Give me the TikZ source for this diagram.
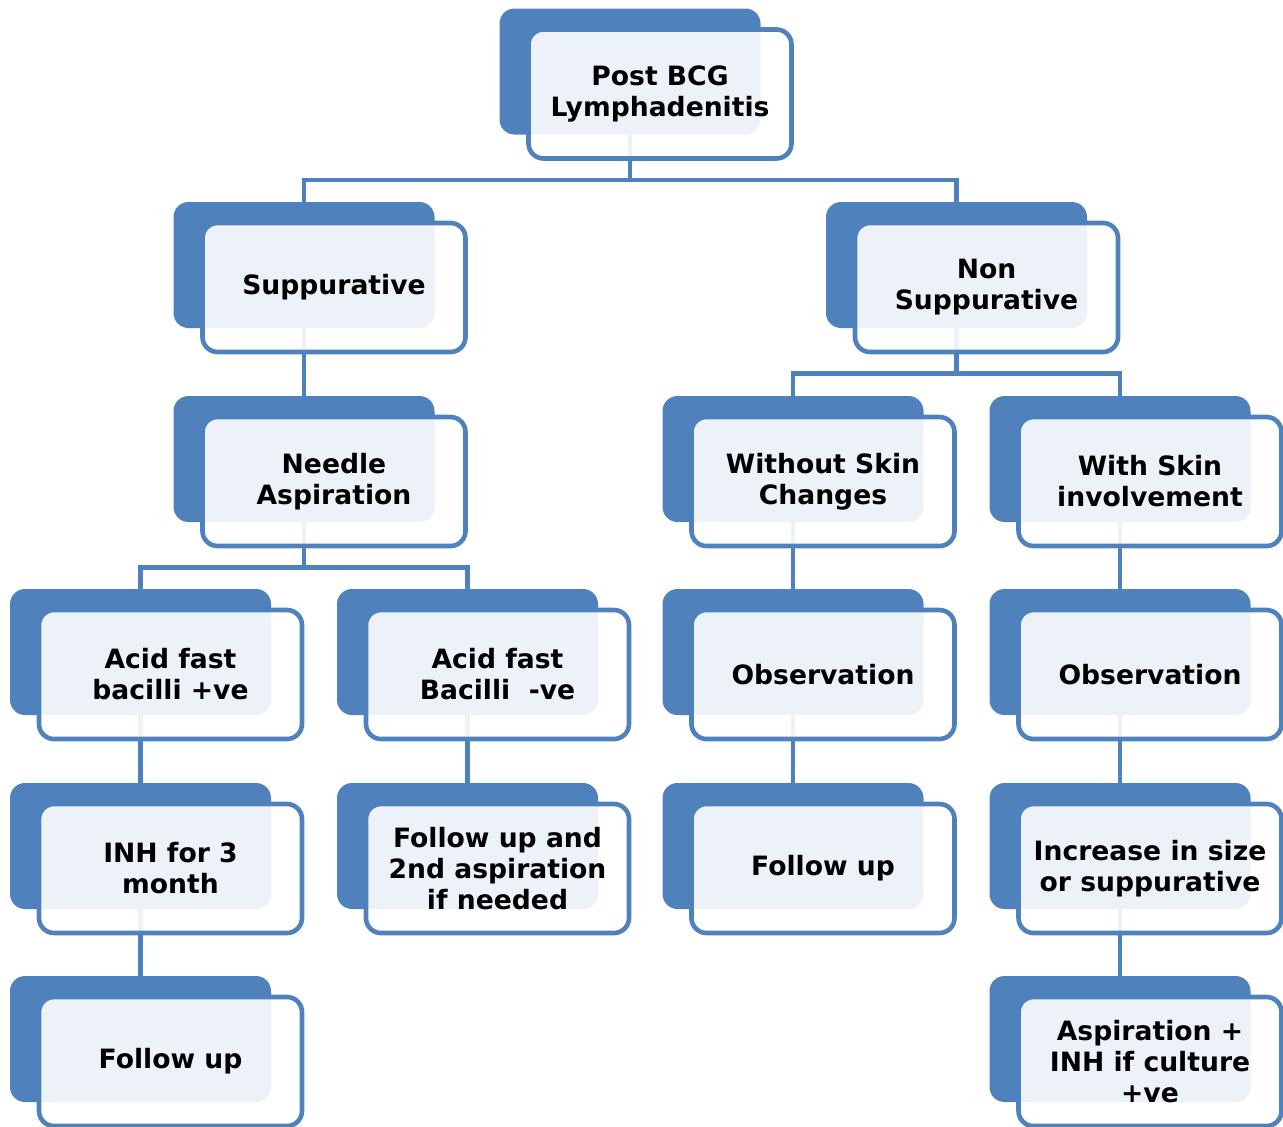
\documentclass[tikz,border=0pt]{standalone}
\usepackage{fontspec}
\setmainfont{DejaVu Sans}
\usetikzlibrary{backgrounds}
\definecolor{boxblue}{HTML}{4F81BD}
\tikzset{backbox/.style={fill=boxblue,rounded corners=7.5pt,minimum width=130.5pt,minimum height=63pt,inner sep=0pt},
frontbox/.style={draw=boxblue,line width=2.3pt,fill=white,fill opacity=.9,text opacity=1,rounded corners=7.5pt,minimum width=131.5pt,minimum height=64.5pt,inner sep=0pt,align=center,font=\bfseries\fontsize{13.3pt}{15.5pt}\selectfont},
link/.style={draw=boxblue,line width=2.3pt}}
\begin{document}
\begin{tikzpicture}[x=.5pt,y=-.5pt]
\useasboundingbox (0,0) rectangle (1283,1126);
% back boxes
\node[backbox] (root) at (630,71.5) {};
\node[backbox] (supp) at (304,265) {};\node[backbox] (nonsupp) at (956.5,265) {};
\node[backbox] (needle) at (304,459) {};\node[backbox] (noskin) at (793,459) {};\node[backbox] (skin) at (1120,459) {};
\node[backbox] (afbpos) at (140.5,652) {};\node[backbox] (afbneg) at (467.5,652) {};
\node[backbox] (obsA) at (793,652) {};\node[backbox] (obsB) at (1120,652) {};
\node[backbox] (inh) at (140.5,846) {};\node[backbox] (fuasp) at (467.5,846) {};
\node[backbox] (fuobs) at (793,846) {};\node[backbox] (incr) at (1120,846) {};
\node[backbox] (fuinh) at (140.5,1039) {};\node[backbox] (aspinh) at (1120,1039) {};
% front boxes
\node[frontbox] (root-f) at ([shift={(30,22.5)}]root.center) {Post BCG\\Lymphadenitis};
\node[frontbox] (supp-f) at ([shift={(30,22.5)}]supp.center) {Suppurative};
\node[frontbox] (nonsupp-f) at ([shift={(30,22.5)}]nonsupp.center) {Non\\Suppurative};
\node[frontbox] (needle-f) at ([shift={(30,22.5)}]needle.center) {Needle\\Aspiration};
\node[frontbox] (noskin-f) at ([shift={(30,22.5)}]noskin.center) {Without Skin\\Changes};
\node[frontbox] (skin-f) at ([shift={(30,22.5)}]skin.center) {With Skin\\involvement};
\node[frontbox] (afbpos-f) at ([shift={(30,22.5)}]afbpos.center) {Acid fast\\bacilli +ve};
\node[frontbox] (afbneg-f) at ([shift={(30,22.5)}]afbneg.center) {Acid fast\\Bacilli~~-ve};
\node[frontbox] (obsA-f) at ([shift={(30,22.5)}]obsA.center) {Observation};
\node[frontbox] (obsB-f) at ([shift={(30,22.5)}]obsB.center) {Observation};
\node[frontbox] (inh-f) at ([shift={(30,22.5)}]inh.center) {INH for 3\\month};
\node[frontbox] (fuasp-f) at ([shift={(30,22.5)}]fuasp.center) {Follow up and\\2nd aspiration\\if needed};
\node[frontbox] (fuobs-f) at ([shift={(30,22.5)}]fuobs.center) {Follow up};
\node[frontbox] (incr-f) at ([shift={(30,22.5)}]incr.center) {Increase in size\\or suppurative};
\node[frontbox] (fuinh-f) at ([shift={(30,22.5)}]fuinh.center) {Follow up};
\node[frontbox] (aspinh-f) at ([shift={(30,22.5)}]aspinh.center) {Aspiration +\\INH if culture\\+ve};
% connectors
\begin{scope}[on background layer]
\draw[link] (root.south) -- ++(0,45) coordinate (rootsplit) -| (supp.north);
\draw[link] (rootsplit) -| (nonsupp.north);
\draw[link] (supp.south) -- (needle.north);
\draw[link] (needle.south) -- ++(0,45) coordinate (needlesplit) -| (afbpos.north);
\draw[link] (needlesplit) -| (afbneg.north);
\draw[link] (nonsupp.south) -- ++(0,45) coordinate (nonsuppsplit) -| (noskin.north);
\draw[link] (nonsuppsplit) -| (skin.north);
\draw[link] (afbpos.south) -- (inh.north);\draw[link] (inh.south) -- (fuinh.north);
\draw[link] (afbneg.south) -- (fuasp.north);
\draw[link] (noskin.south) -- (obsA.north);\draw[link] (obsA.south) -- (fuobs.north);
\draw[link] (skin.south) -- (obsB.north);\draw[link] (obsB.south) -- (incr.north);
\draw[link] (incr.south) -- (aspinh.north);
\end{scope}
\end{tikzpicture}
\end{document}
